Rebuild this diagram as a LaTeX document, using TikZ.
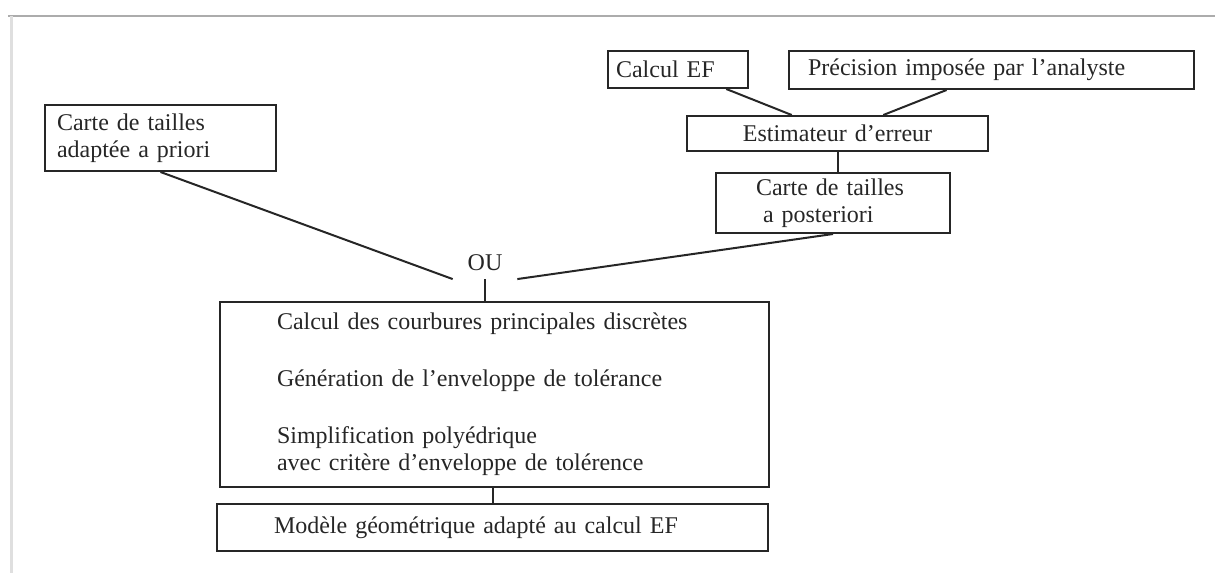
\documentclass[tikz,border=0pt]{standalone}
\usepackage{fontspec}
\setmainfont{Liberation Serif}

\begin{document}
\begin{tikzpicture}[x=1pt, y=-1pt, line width=2pt, line cap=butt, line join=miter,
  boite/.style={draw=black!85, rectangle, anchor=north west, inner ysep=0pt, text=black!85,
    font=\fontsize{24}{27}\selectfont},
  trait/.style={draw=black!85, line width=2pt}]
  %% ════ 外框（扫描件残留的上边和左边）════
  \draw[gray!65, line width=1.4pt] (8,16) -- (1215,16);
  \draw[gray!25, line width=3pt] (11,16) -- (11,573);

  %% ════ 右上：误差估计分支 ════
  \node[boite, minimum width=140pt, minimum height=37pt, inner xsep=8pt, text width=124pt, align=left] (calef) at (607,50) {Calcul EF};
  \node[boite, minimum width=405pt, minimum height=38pt, inner xsep=19pt, text width=367pt, align=left] (prec) at (788,50) {Précision imposée par l’analyste};
  \node[boite, minimum width=301pt, minimum height=35pt, inner xsep=10pt, text width=281pt, align=center] (estim) at (686,115) {Estimateur d’erreur};
  \node[boite, minimum width=234pt, minimum height=60pt, inner xsep=40pt, text width=154pt, align=left] (post) at (715,172) {Carte de tailles\\\hspace*{7pt}a posteriori};

  %% ════ 左上：先验尺寸图 ════
  \node[boite, minimum width=231pt, minimum height=66pt, inner xsep=12pt, text width=207pt, align=left] (apriori) at (44,104) {Carte de tailles\\adaptée a priori};

  %% ════ 汇合点 OU ════
  \node[text=black!85, font=\fontsize{24}{27}\selectfont, inner xsep=14pt, inner ysep=7pt] (ou) at (485,263) {OU};

  %% ════ 下方：处理步骤 + 结果 ════
  %% 行距：段间 57，段内 27（由原图量得）
  \node[boite, minimum width=549pt, minimum height=185pt, inner xsep=57pt, text width=435pt, align=left] (calc) at (219,301)
    {Calcul des courbures principales discrètes\\[30pt]
     Génération de l’enveloppe de tolérance\\[30pt]
     Simplification polyédrique\\
     avec critère d’enveloppe de tolérence};
  \node[boite, minimum width=551pt, minimum height=47pt, inner xsep=57pt, text width=437pt, align=left] (model) at (216,503) {Modèle géométrique adapté au calcul EF};

  %% ════ 连线 ════
  \draw[trait] (calef.-22) -- (estim.158);
  \draw[trait] (prec.-156) -- (estim.22);
  \draw[trait] (estim.south) -- (estim.south |- post.north);
  \draw[trait] (apriori.south) -- (ou.south west);
  \draw[trait] (post.south) -- (ou.south east);
  \draw[trait] (ou.south) -- (ou.south |- calc.north);
  \draw[trait] (model.north |- calc.south) -- (model.north);

  % 钉死画布
  \pgfresetboundingbox
  \path[use as bounding box] (0,0) rectangle (1215,573);
\end{tikzpicture}
\end{document}
